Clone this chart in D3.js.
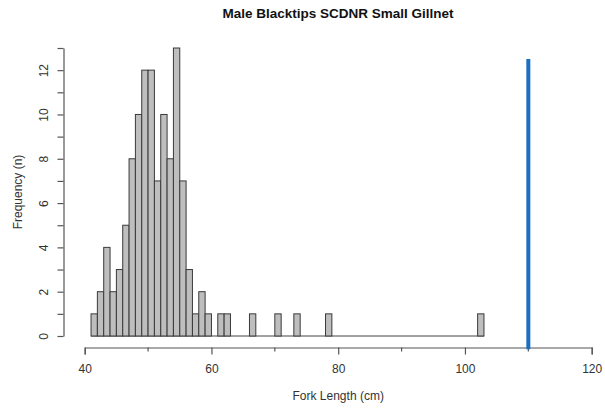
<!DOCTYPE html>
<html>
<head>
<meta charset="utf-8">
<script src="https://cdn.jsdelivr.net/npm/d3@7"></script>
<style>
  html, body { margin: 0; padding: 0; background: #fff; }
  svg { display: block; font-family: "Liberation Sans", Arial, sans-serif; }
</style>
</head>
<body>
<svg id="chart" width="605" height="412"></svg>
<script>
// Histogram of male blacktip fork lengths (1 cm bins, start of bin in cm)
const binStarts = [41, 42, 43, 44, 45, 46, 47, 48, 49, 50, 51, 52, 53, 54, 55, 56, 57, 58, 59,
                   61, 62, 66, 70, 73, 78, 102];
const counts    = [1, 2, 4, 2, 3, 5, 8, 10, 12, 12, 7, 10, 8, 13, 7, 3, 1, 2, 1,
                   1, 1, 1, 1, 1, 1, 1];
const binWidth = 1;
const histStart = 41, histEnd = 103;

// Reference marker (cm)
const markerLength = 110;
const markerRange = [-0.6, 12.5];

const xTicks = [40, 60, 80, 100, 120];
const xMinorTicks = [50, 70, 90, 110];
const yTicks = [0, 2, 4, 6, 8, 10, 12];
const yMinorTicks = [1, 3, 5, 7, 9, 11, 13];

const titleText = "Male Blacktips SCDNR Small Gillnet";
const xLabel = "Fork Length (cm)";
const yLabel = "Frequency (n)";

const svg = d3.select("#chart");
const x = d3.scaleLinear().domain([40, 120]).range([84.7, 591.7]);
const y = d3.scaleLinear().domain([0, 13]).range([336, 48]);

const axisColor = "#555";
const textColor = "#333";

// Bars
const bars = binStarts.map((s, i) => ({ s, n: counts[i] }));
svg.append("line")
  .attr("x1", x(histStart)).attr("x2", x(histEnd))
  .attr("y1", y(0)).attr("y2", y(0))
  .attr("stroke", "#444").attr("stroke-width", 1);
svg.append("g").selectAll("rect").data(bars).join("rect")
  .attr("x", d => x(d.s))
  .attr("y", d => y(d.n))
  .attr("width", d => x(d.s + binWidth) - x(d.s))
  .attr("height", d => y(0) - y(d.n))
  .attr("fill", "#bebebe")
  .attr("stroke", "#3a3a3a")
  .attr("stroke-width", 1);

// X axis
const xAxis = svg.append("g").attr("transform", "translate(0,347.5)");
xAxis.call(d3.axisBottom(x).tickValues(xTicks).tickSize(7).tickPadding(10).tickFormat(d3.format("d")));
xAxis.append("g").selectAll("line").data(xMinorTicks).join("line")
  .attr("x1", d => x(d)).attr("x2", d => x(d)).attr("y1", 0).attr("y2", 4);
xAxis.selectAll("path.domain").attr("stroke", axisColor).attr("stroke-width", 1.2);
xAxis.selectAll("line").attr("stroke", axisColor).attr("stroke-width", 1.2);
xAxis.selectAll("text").attr("fill", textColor).attr("font-size", 12);

// Y axis
const yAxis = svg.append("g").attr("transform", "translate(63.5,0)");
yAxis.call(d3.axisLeft(y).tickValues(yTicks.concat(yMinorTicks)).tickSize(6).tickSizeOuter(0)
  .tickFormat(d => yTicks.includes(d) ? d : ""));
yAxis.selectAll("path.domain").attr("stroke", axisColor).attr("stroke-width", 1.2);
yAxis.selectAll("line").attr("stroke", axisColor).attr("stroke-width", 1.2);
yAxis.selectAll(".tick text")
  .attr("fill", textColor).attr("font-size", 12)
  .attr("x", null).attr("dy", null)
  .attr("text-anchor", "middle")
  .attr("transform", "translate(-16,0) rotate(-90)");

// Marker line
svg.append("line")
  .attr("x1", x(markerLength)).attr("x2", x(markerLength))
  .attr("y1", y(markerRange[0])).attr("y2", y(markerRange[1]))
  .attr("stroke", "#1b6fc0").attr("stroke-width", 4);

// Titles
svg.append("text")
  .attr("x", 338).attr("y", 18)
  .attr("text-anchor", "middle")
  .attr("font-weight", "bold").attr("font-size", 13.5)
  .attr("fill", "#111")
  .text(titleText);
svg.append("text")
  .attr("x", x(80)).attr("y", 400)
  .attr("text-anchor", "middle")
  .attr("font-size", 12).attr("fill", textColor)
  .text(xLabel);
svg.append("text")
  .attr("transform", `translate(22,${y(6.5)}) rotate(-90)`)
  .attr("text-anchor", "middle")
  .attr("font-size", 12).attr("fill", textColor)
  .text(yLabel);
</script>
</body>
</html>
